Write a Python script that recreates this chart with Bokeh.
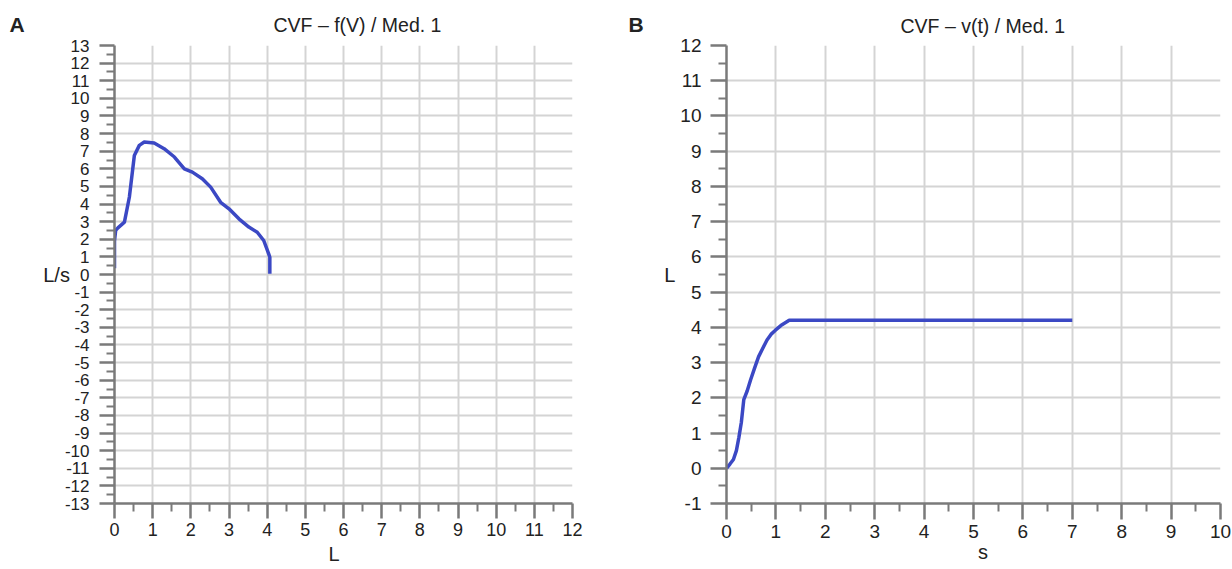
from bokeh.plotting import figure
from bokeh.models import FixedTicker, LinearAxis, Range1d
from bokeh.layouts import row
from bokeh.embed import file_html
from bokeh.resources import INLINE

# ---- Panel A: flow-volume curve (L, L/s) ----
fv_volume = [0.0, 0.0, 0.03, 0.09, 0.26, 0.39, 0.52, 0.65, 0.78, 1.04, 1.30, 1.57,
             1.83, 2.04, 2.30, 2.52, 2.78, 3.00, 3.26, 3.52, 3.74, 3.91, 4.04, 4.07, 4.07]
fv_flow = [0.35, 1.9, 2.5, 2.65, 2.97, 4.4, 6.76, 7.33, 7.52, 7.46, 7.14, 6.67,
           6.0, 5.81, 5.44, 4.96, 4.1, 3.73, 3.16, 2.69, 2.4, 1.93, 1.17, 0.98, 0.04]

# ---- Panel B: volume-time curve (s, L) ----
vt_time = [0.0, 0.07, 0.14, 0.20, 0.25, 0.30, 0.35, 0.42, 0.49, 0.57, 0.65, 0.74,
           0.82, 0.90, 0.99, 1.10, 1.27, 7.0]
vt_volume = [0.0, 0.12, 0.25, 0.5, 0.87, 1.3, 1.95, 2.2, 2.52, 2.85, 3.17, 3.42,
             3.64, 3.8, 3.92, 4.05, 4.2, 4.2]

a_x_ticks = list(range(0, 13))
a_x_minor = [i + 0.5 for i in range(0, 12)]
a_y_ticks = list(range(-13, 14))
a_y_minor = [i + 0.5 for i in range(-13, 13)]
b_x_ticks = list(range(0, 11))
b_x_minor = [i + 0.5 for i in range(0, 10)]
b_y_ticks = list(range(-1, 13))
b_y_minor = [i + 0.5 for i in range(-1, 12)]

title_a = "CVF – f(V) / Med. 1"
title_b = "CVF – v(t) / Med. 1"
a_xlabel, a_ylabel, a_letter = "L", "L/s", "A"
b_xlabel, b_ylabel, b_letter = "s", "L", "B"

FONT = "Liberation Sans"
LINE = "#3b48c4"
AXIS = "#7a7a7a"
GRID = "#d4d4d4"
TXT = "#222222"
H = 569


def style_axis(ax, fs, so, to):
    ax.axis_line_color = AXIS
    ax.axis_line_width = 2.5
    ax.major_tick_line_color = AXIS
    ax.major_tick_line_width = 2.5
    ax.major_tick_in = 0
    ax.major_tick_out = to
    ax.minor_tick_line_color = AXIS
    ax.minor_tick_line_width = 2
    ax.minor_tick_in = 0
    ax.minor_tick_out = 8
    ax.major_label_text_font = FONT
    ax.major_label_text_font_size = fs
    ax.major_label_text_color = TXT
    ax.major_label_standoff = so
    ax.axis_label_text_font = FONT
    ax.axis_label_text_font_size = "20px"
    ax.axis_label_text_font_style = "normal"
    ax.axis_label_text_color = TXT


def text_axis(pos, text, standoff, size):
    # an axis that draws only one text label (no line, no ticks)
    ax = LinearAxis(ticker=FixedTicker(ticks=[pos], minor_ticks=[]),
                    major_label_overrides={pos: text})
    ax.axis_line_color = None
    ax.major_tick_line_color = None
    ax.minor_tick_line_color = None
    ax.major_tick_out = 0
    ax.major_tick_in = 0
    ax.minor_tick_out = 0
    ax.minor_tick_in = 0
    ax.major_label_standoff = standoff
    ax.major_label_text_font = FONT
    ax.major_label_text_font_size = size
    ax.major_label_text_color = TXT
    return ax


def style_title(t, text, offset, standoff, size, bold=False):
    t.text = text
    t.align = "left"
    t.offset = offset
    t.standoff = standoff
    t.vertical_align = "bottom"
    t.text_font = FONT
    t.text_font_size = size
    t.text_font_style = "bold" if bold else "normal"
    t.text_color = TXT


def letter_fig(width, text, x, standoff):
    # narrow blank plot whose title carries the panel letter
    p = figure(width=width, height=H, x_range=Range1d(0, 1), y_range=Range1d(0, 1),
               x_axis_type=None, y_axis_type=None, output_backend="svg",
               toolbar_location=None, min_border=0, min_border_top=45,
               min_border_bottom=66)
    p.outline_line_color = None
    p.background_fill_color = "white"
    p.border_fill_color = "white"
    style_title(p.title, text, x, standoff, "21px", bold=True)
    return p


def make_fig(width, bl, br, bt, bb, xr, yr, xt, xm, yt, ym,
             xfs, yfs, xtick, ytick, xso, yso, title, toff, tstand, ylab, ylso):
    p = figure(width=width, height=H, x_range=Range1d(*xr), y_range=Range1d(*yr),
               output_backend="svg", toolbar_location=None,
               min_border_left=bl, min_border_right=br,
               min_border_top=bt, min_border_bottom=bb)
    p.outline_line_color = None
    p.background_fill_color = "white"
    p.border_fill_color = "white"
    p.xaxis.ticker = FixedTicker(ticks=xt, minor_ticks=xm)
    p.yaxis.ticker = FixedTicker(ticks=yt, minor_ticks=ym)
    p.xaxis.major_label_overrides = {t: str(t) for t in xt}
    p.yaxis.major_label_overrides = {t: str(t) for t in yt}
    style_axis(p.xaxis[0], xfs, xso, xtick)
    style_axis(p.yaxis[0], yfs, yso, ytick)
    p.yaxis.axis_label = ylab
    p.yaxis.axis_label_orientation = "horizontal"
    p.yaxis.axis_label_standoff = ylso
    p.xgrid.grid_line_color = GRID
    p.ygrid.grid_line_color = GRID
    p.xgrid.grid_line_width = 2
    p.ygrid.grid_line_width = 2
    style_title(p.title, title, toff, tstand, "19.5px")
    return p


la = letter_fig(40, a_letter, 9, 19)
pa = make_fig(580, 72, 48, 45, 66, (0, 12), (-13, 13),
              a_x_ticks, a_x_minor, a_y_ticks, a_y_minor,
              "18px", "17px", 15, 15, 4, 10, title_a, 159, 20, a_ylabel, -8)
pa.line(fv_volume, fv_flow, line_color=LINE, line_width=3.5, line_join="round")
pa.add_layout(text_axis(5.75, a_xlabel, 4, "20px"), "below")

lb = letter_fig(40, b_letter, 8, 19)
pb = make_fig(572, 66, 12, 45, 66, (0, 10), (-1, 12),
              b_x_ticks, b_x_minor, b_y_ticks, b_y_minor,
              "19px", "19px", 16, 16, 5, 9, title_b, 174, 18, b_ylabel, 2)
pb.line(vt_time, vt_volume, line_color=LINE, line_width=3.5, line_join="round")
pb.add_layout(text_axis(5.19, b_xlabel, 0, "20px"), "below")

layout = row(la, pa, lb, pb)
open("out.html", "w").write(file_html(layout, INLINE))
